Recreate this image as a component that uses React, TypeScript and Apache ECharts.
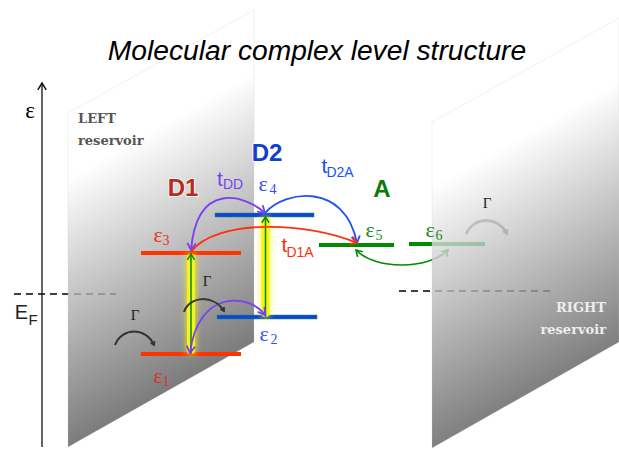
import React, { useEffect, useRef } from "react";
import * as echarts from "echarts";

const W = 619;
const H = 449;

// energy levels
const levelNames = ["e1", "e2", "e3", "e4", "e5", "e6"];
const levelSpans = [[141, 241], [217, 317], [141, 241], [215, 314], [319, 394], [409, 485]];
const levelHeights = [354, 317, 253, 215, 245, 244];
const levelColors = ["#ff3300", "#0a47d6", "#ff3300", "#0a47d6", "#008a00", "#008a00"];

// reservoir planes
const leftPlane = [[68, 113], [254, 10], [254, 342], [68, 447]];
const rightPlane = [[432, 122], [619, 18], [619, 342], [432, 448]];

// Fermi levels
const fermiSpans = [[14, 116, 294], [399, 553, 291]];

// hopping arrows: start, control 1, control 2, end
const backCurves = [
  [356, 250, 375, 270, 428, 270, 448, 250],
  [466, 234, 474, 216, 498, 216, 507, 234],
];
const backCurveColors = ["#008a00", "#555555"];
const backCurveWidths = [1.6, 2.8];
const backCurveHeads = [7, 5];
const backCurveBoth = [true, false];

const frontCurves = [
  [265, 213, 245, 195, 197, 180, 191, 250],
  [265, 213, 285, 190, 345, 182, 357, 243],
  [191, 252, 215, 218, 310, 222, 357, 243],
  [265, 315, 250, 294, 198, 288, 190, 353],
  [115, 345, 122, 327, 146, 327, 154, 345],
  [184, 312, 190, 295, 214, 295, 224, 311],
];
const frontCurveColors = ["#7a3ff0", "#2050f0", "#ff3010", "#7a3ff0", "#333333", "#333333"];
const frontCurveWidths = [1.8, 1.8, 1.8, 1.8, 2, 2];
const frontCurveHeads = [8, 8, 8, 8, 4, 4];
const frontCurveBoth = [true, false, false, true, false, false];

// vertical excitations: x, from, to
const excitations = [[191, 354, 254], [265.5, 317, 217]];

// energy axis
const energyAxis = [42, 447, 83];

function arrowHead(x: number, y: number, fx: number, fy: number, size: number) {
  const a = Math.atan2(y - fy, x - fx);
  const s = 0.55;
  return [
    [x - size * Math.cos(a - s), y - size * Math.sin(a - s)],
    [x, y],
    [x - size * Math.cos(a + s), y - size * Math.sin(a + s)],
  ];
}

function curveItem(curve: number[], color: string, width: number, head: number, both: boolean, api: any) {
  const p = [0, 2, 4, 6].map((i) => api.coord([curve[i], curve[i + 1]]));
  const children: any[] = [
    {
      type: "bezierCurve",
      shape: {
        x1: p[0][0], y1: p[0][1], cpx1: p[1][0], cpy1: p[1][1],
        cpx2: p[2][0], cpy2: p[2][1], x2: p[3][0], y2: p[3][1],
      },
      style: { stroke: color, lineWidth: width, fill: "none" },
    },
    {
      type: "polyline",
      shape: { points: arrowHead(p[3][0], p[3][1], p[2][0], p[2][1], head) },
      style: { stroke: color, lineWidth: Math.min(width, 1.8), fill: "none" },
    },
  ];
  if (both) {
    children.push({
      type: "polyline",
      shape: { points: arrowHead(p[0][0], p[0][1], p[1][0], p[1][1], head) },
      style: { stroke: color, lineWidth: Math.min(width, 1.8), fill: "none" },
    });
  }
  return { type: "group", children };
}

function levelItem(i: number, api: any) {
  const a = api.coord([levelSpans[i][0], levelHeights[i]]);
  const b = api.coord([levelSpans[i][1], levelHeights[i]]);
  const blue = levelColors[i] === "#0a47d6";
  return {
    type: "rect",
    shape: { x: a[0], y: a[1] - 2, width: b[0] - a[0], height: 4 },
    style: { fill: levelColors[i], stroke: blue ? "#2a8a50" : "none", lineWidth: blue ? 0.5 : 0 },
  };
}

function planeItem(pts: number[][], api: any) {
  const p = pts.map((q) => api.coord(q));
  const x0 = p[0][0];
  const y0 = p[0][1] + 65;
  const fill = new echarts.graphic.LinearGradient(
    x0, y0, x0 + 118, y0 + 207,
    [
      { offset: 0, color: "rgba(255,255,255,0.8)" },
      { offset: 1, color: "rgba(88,88,88,0.8)" },
    ],
    true,
  );
  return { type: "polygon", shape: { points: p }, style: { fill, stroke: "rgba(200,200,200,0.5)", lineWidth: 0.5 } };
}

type Label = [string, number, number, string, string];
const SERIF = '"Liberation Serif"';
const SANS = '"Liberation Sans"';
const RES = `bold 13px "DejaVu Serif"`;

const labels: Label[] = [
  ["Molecular complex level structure", 317, 50, `italic 28.2px ${SANS}`, "#000000"],
  ["ε", 30, 110, `23px ${SERIF}`, "#000000"],
  ["E", 21.5, 312, `20px ${SANS}`, "#222222"],
  ["F", 33, 319, `15px ${SANS}`, "#222222"],
  ["Γ", 135, 315, `15px ${SERIF}`, "#222222"],
  ["Γ", 207, 281, `15px ${SERIF}`, "#222222"],
  ["Γ", 487, 203, `15px ${SERIF}`, "#222222"],
  ["t", 220, 178, `21px ${SANS}`, "#7a3ff0"],
  ["DD", 233, 184, `14px ${SANS}`, "#7a3ff0"],
  ["t", 324.5, 165, `21px ${SANS}`, "#2050f0"],
  ["D2A", 340, 172, `14px ${SANS}`, "#2050f0"],
  ["t", 284.5, 244, `21px ${SANS}`, "#ff3010"],
  ["D1A", 300, 252, `14px ${SANS}`, "#ff3010"],
];
const levelLabels: Label[] = [
  ["ε", 158, 375, `22px ${SERIF}`, "#e03020"],
  ["1", 166, 381, `14px ${SERIF}`, "#e03020"],
  ["ε", 264, 333, `22px ${SERIF}`, "#3050f0"],
  ["2", 274, 339, `14px ${SERIF}`, "#3050f0"],
  ["ε", 158, 234, `22px ${SERIF}`, "#f03020"],
  ["3", 166, 240, `14px ${SERIF}`, "#f03020"],
  ["ε", 263, 183, `22px ${SERIF}`, "#3050f0"],
  ["4", 273, 189, `14px ${SERIF}`, "#3050f0"],
  ["ε", 370, 229, `22px ${SERIF}`, "#1a8a1a"],
  ["5", 379, 235, `14px ${SERIF}`, "#1a8a1a"],
  ["ε", 430, 229, `22px ${SERIF}`, "#1a8a1a"],
  ["6", 439, 235, `14px ${SERIF}`, "#1a8a1a"],
];
const groupLabels: Label[] = [
  ["D1", 183, 187, `bold 24px ${SANS}`, "#b82a20"],
  ["D2", 267, 152, `bold 24px ${SANS}`, "#1040d0"],
  ["A", 382, 188, `bold 24px ${SANS}`, "#0a7a0a"],
];

const reservoirLeft = ["LEFT", "reservoir"];
const reservoirRight = ["RIGHT", "reservoir"];

export default function App() {
  const ref = useRef<HTMLDivElement>(null);
  useEffect(() => {
    document.body.style.margin = "0";
    const chart = echarts.init(ref.current!, undefined, { renderer: "svg", width: W, height: H });

    const text = (l: Label) => ({
      type: "text",
      z: 100,
      style: { text: l[0], x: l[1], y: l[2], font: l[3], fill: l[4], textAlign: "center", textVerticalAlign: "middle" },
    });
    const groupText = (l: Label) => ({
      type: "text",
      z: 100,
      style: {
        text: l[0], x: l[1], y: l[2], font: l[3], fill: l[4], textAlign: "center", textVerticalAlign: "middle",
        stroke: "#ffffff", lineWidth: 1.5, shadowColor: "rgba(0,0,0,0.6)", shadowBlur: 3, shadowOffsetX: 1, shadowOffsetY: 1,
      },
    });
    const resText = (s: string, x: number, y: number, fill: string, align: string) => ({
      type: "text",
      z: 100,
      style: { text: s, x, y, font: RES, fill, textAlign: align, textVerticalAlign: "middle" },
    });

    const base = { type: "custom", coordinateSystem: "cartesian2d", silent: true, clip: false };
    chart.setOption({
      animation: false,
      tooltip: { show: false },
      grid: { left: 0, right: 0, top: 0, bottom: 0 },
      xAxis: { type: "value", min: 0, max: W, show: false },
      yAxis: { type: "value", min: 0, max: H, inverse: true, show: false },
      graphic: {
        elements: [
          ...labels.map(text),
          ...levelLabels.map(text),
          ...groupLabels.map(groupText),
          resText(reservoirLeft[0], 78, 118, "#555555", "left"),
          resText(reservoirLeft[1], 78, 140, "#555555", "left"),
          resText(reservoirRight[0], 606, 307, "#eeeeee", "right"),
          resText(reservoirRight[1], 606, 329, "#eeeeee", "right"),
        ],
      },
      series: [
        {
          ...base, name: "fermi", z: 1, data: fermiSpans.map((f) => [f[0], f[2]]),
          renderItem: (p: any, api: any) => {
            const f = fermiSpans[p.dataIndex];
            const a = api.coord([f[0], f[2]]);
            const b = api.coord([f[1], f[2]]);
            return {
              type: "line",
              shape: { x1: a[0], y1: a[1], x2: b[0], y2: b[1] },
              style: { stroke: "#000000", lineWidth: 1.5, lineDash: [7, 5] },
            };
          },
        },
        {
          ...base, name: "back levels", z: 1, data: [[levelSpans[5][0], levelHeights[5]]],
          renderItem: (_p: any, api: any) => levelItem(5, api),
        },
        {
          ...base, name: "back curves", z: 1, data: backCurves.map((c) => [c[0], c[1]]),
          renderItem: (p: any, api: any) => {
            const i = p.dataIndex;
            return curveItem(backCurves[i], backCurveColors[i], backCurveWidths[i], backCurveHeads[i], backCurveBoth[i], api);
          },
        },
        {
          ...base, name: "planes", z: 2, data: [leftPlane[0], rightPlane[0]],
          renderItem: (p: any, api: any) => planeItem(p.dataIndex === 0 ? leftPlane : rightPlane, api),
        },
        {
          ...base, name: "levels", z: 3, data: levelNames.slice(0, 5).map((_n, i) => [levelSpans[i][0], levelHeights[i]]),
          renderItem: (p: any, api: any) => levelItem(p.dataIndex, api),
        },
        {
          ...base, name: "excitation", z: 4, data: excitations.map((e) => [e[0], e[1]]),
          renderItem: (p: any, api: any) => {
            const e = excitations[p.dataIndex];
            const a = api.coord([e[0], e[1]]);
            const b = api.coord([e[0], e[2]]);
            return {
              type: "group",
              children: [
                {
                  type: "rect",
                  shape: { x: a[0] - 4, y: b[1], width: 8, height: a[1] - b[1], r: 4 },
                  style: { fill: "#f4f41e", shadowColor: "#f4f41e", shadowBlur: 6 },
                },
                {
                  type: "line",
                  shape: { x1: a[0], y1: a[1], x2: b[0], y2: b[1] },
                  style: { stroke: "#0a8a0a", lineWidth: 1.5 },
                },
                {
                  type: "polyline",
                  shape: { points: arrowHead(b[0], b[1], a[0], a[1], 7) },
                  style: { stroke: "#0a8a0a", lineWidth: 1.5, fill: "none" },
                },
              ],
            };
          },
        },
        {
          ...base, name: "curves", z: 5, data: frontCurves.map((c) => [c[0], c[1]]),
          renderItem: (p: any, api: any) => {
            const i = p.dataIndex;
            return curveItem(frontCurves[i], frontCurveColors[i], frontCurveWidths[i], frontCurveHeads[i], frontCurveBoth[i], api);
          },
        },
        {
          ...base, name: "energy axis", z: 5, data: [[energyAxis[0], energyAxis[1]]],
          renderItem: (_p: any, api: any) => {
            const a = api.coord([energyAxis[0], energyAxis[1]]);
            const b = api.coord([energyAxis[0], energyAxis[2]]);
            return {
              type: "group",
              children: [
                { type: "line", shape: { x1: a[0], y1: a[1], x2: b[0], y2: b[1] }, style: { stroke: "#111111", lineWidth: 1.3 } },
                {
                  type: "polyline",
                  shape: { points: arrowHead(b[0], b[1], a[0], a[1], 8) },
                  style: { stroke: "#111111", lineWidth: 1.5, fill: "none" },
                },
              ],
            };
          },
        },
      ],
    });
    return () => chart.dispose();
  }, []);
  return <div ref={ref} style={{ position: "fixed", left: 0, top: 0, width: W, height: H, background: "#ffffff" }} />;
}
